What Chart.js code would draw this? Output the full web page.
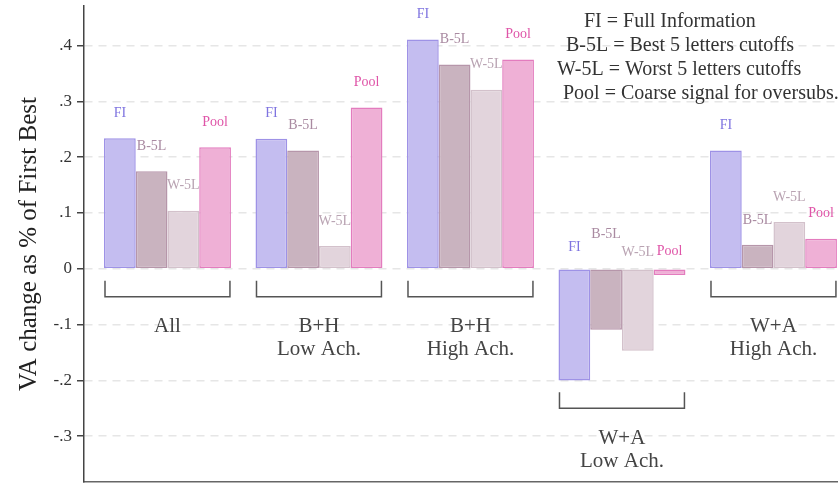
<!DOCTYPE html>
<html>
<head>
<meta charset="utf-8">
<script src="https://cdn.jsdelivr.net/npm/chart.js@4"></script>
<style>
    html, body { margin: 0; padding: 0; background: #fff; overflow: hidden; }
    #wrap { width: 838px; height: 483px; position: relative; }
</style>
</head>
<body>
<div id="wrap"><canvas id="chart"></canvas></div>
<script>
// Groups (one per bracket), each may span two lines
const groupLabels = [['All'], ['B+H', 'Low Ach.'], ['B+H', 'High Ach.'], ['W+A', 'Low Ach.'], ['W+A', 'High Ach.']];
const seriesNames = ['FI', 'B-5L', 'W-5L', 'Pool'];

// VA change as share of first best
const fiValues    = [0.234, 0.233, 0.411, -0.200, 0.212];
const best5Values = [0.175, 0.212, 0.366, -0.109, 0.043];
const worst5Values = [0.104, 0.041, 0.321, -0.147, 0.084];
const poolValues  = [0.218, 0.289, 0.375, -0.011, 0.054];

// where the series labels sit for the all-negative group
const negLabelY = [0.038, 0.062, 0.030, 0.032];

const yTicks = [-0.3, -0.2, -0.1, 0, 0.1, 0.2, 0.3, 0.4];

const noteLines = [
    'FI = Full Information',
    'B-5L = Best 5 letters cutoffs',
    'W-5L = Worst 5 letters cutoffs',
    'Pool = Coarse signal for oversubs.'
];

const seriesValues = [fiValues, best5Values, worst5Values, poolValues];
const FILL = ['#c4bdf0', '#c9b3bf', '#e2d4dc', '#efb0d6'];
const EDGE = ['#9e92e6', '#b696aa', '#d3c1cb', '#e37cbe'];
const LABEL = ['#7f74e0', '#a98aa1', '#b9a3b2', '#df55a8'];
const SERIF = '"Liberation Serif", "DejaVu Serif", serif';

Chart.defaults.font.family = SERIF;

// Bar labels, group brackets and the note in the corner
const annotations = {
    id: 'annotations',
    afterDatasetsDraw(chart) {
        const ctx = chart.ctx;
        const yScale = chart.scales.y;
        ctx.save();

        // series name over each bar
        ctx.font = '14px ' + SERIF;
        ctx.textAlign = 'center';
        ctx.textBaseline = 'middle';
        seriesValues.forEach((vals, di) => {
            const meta = chart.getDatasetMeta(di);
            ctx.fillStyle = LABEL[di];
            meta.data.forEach((bar, gi) => {
                const y = vals[gi] >= 0 ? bar.y - 25 : yScale.getPixelForValue(negLabelY[di]);
                ctx.fillText(seriesNames[di], bar.x, y);
            });
        });

        // brackets under the groups
        groupLabels.forEach((lines, gi) => {
            const first = chart.getDatasetMeta(0).data[gi];
            const last = chart.getDatasetMeta(seriesValues.length - 1).data[gi];
            const x1 = first.x - first.width / 2 + 1;
            const x2 = last.x + last.width / 2 - 1;
            const low = Math.min(0, ...seriesValues.map(s => s[gi]));
            const yb = yScale.getPixelForValue(low - 0.05);

            ctx.strokeStyle = '#555';
            ctx.lineWidth = 1.5;
            ctx.beginPath();
            ctx.moveTo(x1, yb - 16);
            ctx.lineTo(x1, yb);
            ctx.lineTo(x2, yb);
            ctx.lineTo(x2, yb - 16);
            ctx.stroke();

            ctx.fillStyle = '#444';
            ctx.font = '21px ' + SERIF;
            lines.forEach((t, li) => {
                ctx.fillText(t, (x1 + x2) / 2, yb + 30 + li * 23);
            });
        });

        // note
        ctx.fillStyle = '#333';
        ctx.font = '20px ' + SERIF;
        ctx.textAlign = 'left';
        const noteX = [584, 566, 557, 563];
        noteLines.forEach((t, i) => {
            ctx.fillText(t, noteX[i], 22 + i * 24);
        });

        ctx.restore();
    }
};

function formatTick(v) {
    if (Math.abs(v) < 1e-9) return '0';
    return (v < 0 ? '-' : '') + Math.abs(v).toFixed(1).replace(/^0/, '');
}

new Chart(document.getElementById('chart'), {
    type: 'bar',
    data: {
        datasets: seriesValues.map((vals, di) => ({
            label: seriesNames[di],
            data: vals.map((v, gi) => ({ x: gi, y: v })),
            backgroundColor: FILL[di],
            borderColor: EDGE[di],
            borderWidth: 1.5,
            borderSkipped: false,
            categoryPercentage: 0.838,
            barPercentage: 1
        }))
    },
    options: {
        responsive: true,
        maintainAspectRatio: false,
        animation: false,
        layout: {
            padding: { top: 6, bottom: 1, left: 0, right: 0 }
        },
        plugins: {
            legend: { display: false },
            tooltip: { enabled: false }
        },
        scales: {
            x: {
                type: 'linear',
                offset: false,
                min: -0.551,
                max: 4.426,
                afterBuildTicks: function (scale) {
                    scale.ticks = groupLabels.map((g, i) => ({ value: i }));
                },
                ticks: { display: false },
                grid: { display: false, drawTicks: false, offset: false },
                border: { display: true, color: '#666', width: 1.5 },
                afterFit: function (scale) {
                    scale.height = 0;
                }
            },
            y: {
                min: -0.382,
                max: 0.471,
                afterBuildTicks: function (scale) {
                    scale.ticks = yTicks.map(v => ({ value: v }));
                },
                afterFit: function (scale) {
                    scale.width = 84;
                    scale.paddingTop = 0;
                    scale.paddingBottom = 0;
                },
                ticks: {
                    color: '#333',
                    padding: 5,
                    font: { size: 17 },
                    callback: function (value) {
                        return formatTick(value);
                    }
                },
                grid: {
                    color: '#e6e6e6',
                    lineWidth: 1.5,
                    tickColor: '#444',
                    tickLength: 7,
                    tickWidth: 1.5,
                    tickBorderDash: []
                },
                border: { display: true, color: '#444', width: 1.5, dash: [8, 6] },
                title: {
                    display: true,
                    text: 'VA change as % of First Best',
                    color: '#222',
                    font: { size: 25 },
                    padding: { top: 14, bottom: 0 }
                }
            }
        }
    },
    plugins: [annotations]
});
</script>
</body>
</html>
